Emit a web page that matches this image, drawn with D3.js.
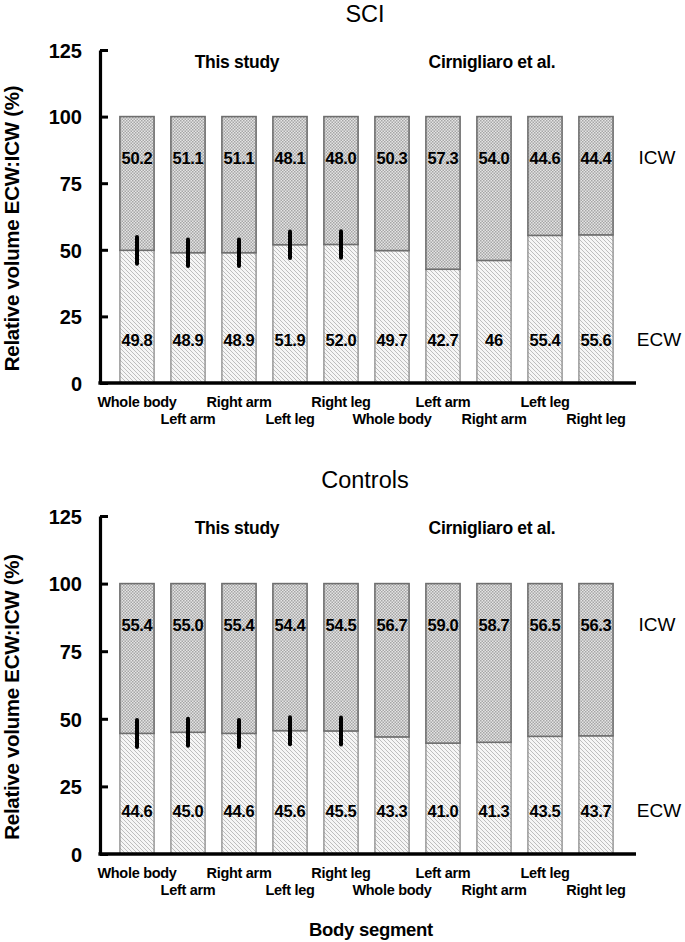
<!DOCTYPE html>
<html><head><meta charset="utf-8">
<script src="https://cdn.jsdelivr.net/npm/d3@7"></script>
<style>body{margin:0;background:#fff}svg{display:block;font-family:Arial,"Liberation Sans",sans-serif}</style>
</head><body>
<script>
const segments = ["Whole body","Left arm","Right arm","Left leg","Right leg","Whole body","Left arm","Right arm","Left leg","Right leg"];
const sciECW = [49.8,48.9,48.9,51.9,52.0,49.7,42.7,46,55.4,55.6];
const sciICW = [50.2,51.1,51.1,48.1,48.0,50.3,57.3,54.0,44.6,44.4];
const sciECWLabels = ["49.8","48.9","48.9","51.9","52.0","49.7","42.7","46","55.4","55.6"];
const sciICWLabels = ["50.2","51.1","51.1","48.1","48.0","50.3","57.3","54.0","44.6","44.4"];
const sciErr = [5,5,5,5,5];
const ctrlECW = [44.6,45.0,44.6,45.6,45.5,43.3,41.0,41.3,43.5,43.7];
const ctrlICW = [55.4,55.0,55.4,54.4,54.5,56.7,59.0,58.7,56.5,56.3];
const ctrlECWLabels = ["44.6","45.0","44.6","45.6","45.5","43.3","41.0","41.3","43.5","43.7"];
const ctrlICWLabels = ["55.4","55.0","55.4","54.4","54.5","56.7","59.0","58.7","56.5","56.3"];
const ctrlErr = [5,5,5,5,5];
const yTicks = [0,25,50,75,100,125];

const W=685,H=942;
const FONT="Arial,'Liberation Sans',sans-serif";
const svg=d3.select("body").append("svg").attr("width",W).attr("height",H);
const defs=svg.append("defs");
const pc=defs.append("pattern").attr("id","chk").attr("patternUnits","userSpaceOnUse").attr("width",3).attr("height",3);
pc.append("rect").attr("width",3).attr("height",3).attr("fill","#e4e4e4");
pc.append("rect").attr("width",1.5).attr("height",1.5).attr("fill","#a6a6a6");
pc.append("rect").attr("x",1.5).attr("y",1.5).attr("width",1.5).attr("height",1.5).attr("fill","#a6a6a6");
const ph=defs.append("pattern").attr("id","hatch").attr("patternUnits","userSpaceOnUse").attr("width",4).attr("height",4);
ph.append("rect").attr("width",4).attr("height",4).attr("fill","#f6f6f6");
ph.append("path").attr("d","M-1,-1 L5,5 M-1,3 L1,5 M3,-1 L5,1").attr("stroke","#b8b8b8").attr("stroke-width",0.9);

const x=d3.scaleBand().domain(d3.range(segments.length)).range([111.5,621.5]).paddingInner(0.33).paddingOuter(0.165);

function panel(o){
  const y=d3.scaleLinear().domain([0,125]).range([o.y0,o.y1]);
  const g=svg.append("g");
  g.append("text").attr("x",365).attr("y",o.y1-28).attr("text-anchor","middle").attr("font-size",23.5).text(o.title);
  g.append("text").attr("x",237).attr("y",o.y1+18).attr("text-anchor","middle").attr("font-size",17.5).attr("font-weight","bold").attr("letter-spacing",-0.3).text("This study");
  g.append("text").attr("x",492).attr("y",o.y1+18).attr("text-anchor","middle").attr("font-size",17.5).attr("font-weight","bold").attr("letter-spacing",-0.3).text("Cirnigliaro et al.");
  const idx=d3.range(segments.length);
  g.selectAll(".ecw").data(idx).join("rect")
    .attr("x",i=>x(i)).attr("width",x.bandwidth())
    .attr("y",i=>y(o.ecw[i])).attr("height",i=>y(0)-y(o.ecw[i]))
    .attr("fill","url(#hatch)").attr("stroke","#8a8a8a").attr("stroke-width",1.3);
  g.selectAll(".icw").data(idx).join("rect")
    .attr("x",i=>x(i)).attr("width",x.bandwidth())
    .attr("y",i=>y(o.ecw[i]+o.icw[i])).attr("height",i=>y(o.ecw[i])-y(o.ecw[i]+o.icw[i]))
    .attr("fill","url(#chk)").attr("stroke","#6e6e6e").attr("stroke-width",1.6);
  g.selectAll(".err").data(o.err).join("line")
    .attr("x1",(d,i)=>x(i)+x.bandwidth()/2).attr("x2",(d,i)=>x(i)+x.bandwidth()/2)
    .attr("y1",(d,i)=>y(o.ecw[i]-d)).attr("y2",(d,i)=>y(o.ecw[i]+d))
    .attr("stroke","#000").attr("stroke-width",4).attr("stroke-linecap","round");
  g.selectAll(".vi").data(idx).join("text")
    .attr("x",i=>x(i)+x.bandwidth()/2).attr("y",y(82.3)).attr("text-anchor","middle")
    .attr("font-size",16.5).attr("font-weight","bold").attr("letter-spacing",-0.3).text(i=>o.icwL[i]);
  g.selectAll(".ve").data(idx).join("text")
    .attr("x",i=>x(i)+x.bandwidth()/2).attr("y",y(13.8)).attr("text-anchor","middle")
    .attr("font-size",16.5).attr("font-weight","bold").attr("letter-spacing",-0.3).text(i=>o.ecwL[i]);
  g.append("text").attr("x",657).attr("y",y(82.3)).attr("text-anchor","middle").attr("font-size",19).text("ICW");
  g.append("text").attr("x",659).attr("y",y(13.8)).attr("text-anchor","middle").attr("font-size",19).text("ECW");
  const ya=g.append("g").attr("transform","translate(100,0)")
    .call(d3.axisLeft(y).tickValues(yTicks).tickSize(-8).tickSizeOuter(0).tickPadding(18));
  ya.select(".domain").attr("stroke","#000").attr("stroke-width",3.2);
  ya.selectAll(".tick line").attr("stroke","#000").attr("stroke-width",3);
  ya.selectAll(".tick text").attr("font-size",20).attr("font-weight","bold").attr("fill","#000").attr("font-family",FONT).attr("dy","0.36em");
  g.append("line").attr("x1",98.4).attr("x2",636).attr("y1",y(0)).attr("y2",y(0)).attr("stroke","#000").attr("stroke-width",3.5);
  g.selectAll(".xl").data(idx).join("text")
    .attr("x",i=>x(i)+x.bandwidth()/2).attr("y",i=>y(0)+(i%2===0?24:41)).attr("text-anchor","middle")
    .attr("font-size",14.5).attr("font-weight","bold").attr("letter-spacing",-0.3).text(i=>segments[i]);
  g.append("text").attr("transform",`translate(19,${(o.y0+o.y1)/2+12}) rotate(-90)`).attr("text-anchor","middle")
    .attr("font-size",20.5).attr("font-weight","bold").attr("letter-spacing",-0.3).text("Relative volume ECW:ICW (%)");
}
panel({y0:383,y1:50,title:"SCI",ecw:sciECW,icw:sciICW,ecwL:sciECWLabels,icwL:sciICWLabels,err:sciErr});
panel({y0:854,y1:516,title:"Controls",ecw:ctrlECW,icw:ctrlICW,ecwL:ctrlECWLabels,icwL:ctrlICWLabels,err:ctrlErr});
svg.append("text").attr("x",371).attr("y",936).attr("text-anchor","middle").attr("font-size",18.5).attr("font-weight","bold").attr("letter-spacing",-0.3).text("Body segment");
</script>
</body></html>
